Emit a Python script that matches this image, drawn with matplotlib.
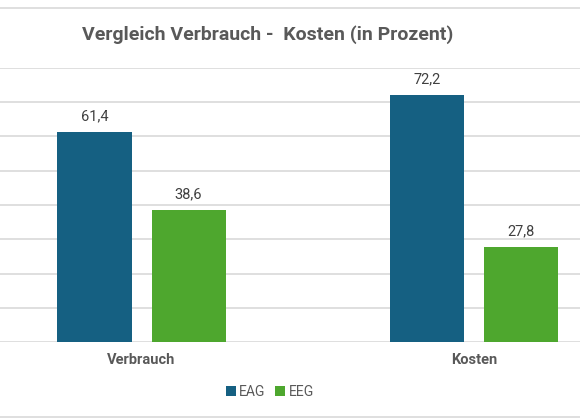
import numpy as np
import matplotlib
matplotlib.use("Agg")
from matplotlib import pyplot as plt
from matplotlib.lines import Line2D

categories = ["Verbrauch", "Kosten"]
series_names = ["EAG", "EEG"]
eag = [61.4, 72.2]
eeg = [38.6, 27.8]
colors = ["#156082", "#4EA72E"]

plt.rcParams['font.family'] = ['Roboto', 'DejaVu Sans']

fig = plt.figure(figsize=(5.8, 4.2), dpi=100)
ax = fig.add_axes([0, (420 - 342) / 420, 1, (342 - 68) / 420])

x = np.arange(len(categories))
w = 0.2226
off = 0.1414
for vals, name, c, d in zip([eag, eeg], series_names, colors, [-off, off]):
    bars = ax.bar(x + d, vals, w, color=c, label=name, zorder=3)
    for b, v in zip(bars, vals):
        ax.annotate(f"{v:.1f}".replace(".", ","), (b.get_x() + b.get_width() / 2, v),
                    xytext=(0, 8), textcoords="offset points",
                    ha="center", va="baseline", fontsize=10.5, color="#404040")

ax.set_xlim(-0.4256, 1.3188)
ax.set_ylim(0, 80)
ax.set_yticks(np.arange(0, 81, 10))
ax.grid(axis="y", color="#D9D9D9", linewidth=1.2, zorder=0)
ax.tick_params(left=False, labelleft=False, bottom=False, labelbottom=False)
for s in ax.spines.values():
    s.set_visible(False)

for xi, cat in zip(x, categories):
    ax.text(xi, -5.4, cat, ha="center", va="center", fontsize=10.5,
            fontweight="bold", color="#595959")

fig.text(267.5 / 580, 1 - 35 / 420, "Vergleich Verbrauch -  Kosten (in Prozent)",
         ha="center", va="center", fontsize=14, fontweight="bold", color="#595959")

fig.legend(loc="center", bbox_to_anchor=(270 / 580, 1 - 392 / 420), ncol=2,
           frameon=False, fontsize=10, handlelength=0.7, handleheight=0.7,
           handletextpad=0.25, columnspacing=0.7, labelcolor="#595959")

# chart frame lines (top and bottom)
for yy in [8, 417]:
    fig.add_artist(Line2D([0, 1], [1 - yy / 420] * 2, color="#D9D9D9", linewidth=1.2))

fig.savefig("out.png", dpi=100)
